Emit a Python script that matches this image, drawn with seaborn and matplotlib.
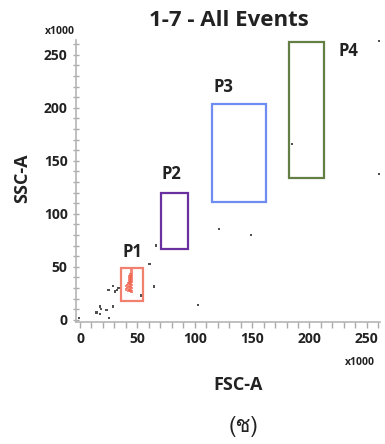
import numpy as np
import pandas as pd
import matplotlib
matplotlib.use("Agg")
import matplotlib.pyplot as plt
from matplotlib.patches import Rectangle
from matplotlib.ticker import MultipleLocator
from matplotlib import font_manager
from matplotlib.ft2font import FT2Font
import seaborn as sns

# Events outside the gates (FSC-A, SSC-A in thousands)
other_fsc = [-1, 17.4, 18.3, 14.5, 17.4, 23, 25.5, 28.5, 24.7, 28.5, 30.5, 32, 33.4,
             66, 60.4, 64.7, 103, 121.3, 149, 185, 260.5, 260.5, 53]
other_ssc = [2, 12.5, 10, 7, 5.7, 9.4, 2, 12.5, 28, 32, 26.7, 28.3, 29.9,
             70, 52.5, 31.4, 14, 85.6, 80, 166, 263, 137.7, 23]

# Events inside gate P1
p1_fsc = [40, 40, 41, 41, 42, 42, 42,
          43, 43, 43, 43, 43,
          44, 44, 44, 44, 44, 44,
          45, 45, 45, 45, 45, 45, 45, 45]
p1_ssc = [29, 32, 30, 33, 28, 31, 34,
          29, 32, 35, 38, 41,
          28, 31, 34, 37, 40, 43,
          27, 30, 33, 36, 39, 42, 45, 47]

# Gates: name, FSC range, SSC range
gate_names = ["P1", "P2", "P3", "P4"]
gate_fsc = [(35.7, 54.9), (70.6, 94.0), (114.7, 162.0), (182.0, 212.5)]
gate_ssc = [(18.0, 49.0), (67.0, 119.8), (111.0, 203.8), (134.0, 262.5)]
gate_colors = ["#f2806e", "#6b30a0", "#6f8cf2", "#647f44"]
label_pos = [(45.3, 64), (80, 137.7), (125.4, 219.8), (234.3, 253.8)]

x_ticks = [0, 50, 100, 150, 200, 250]
y_ticks = [0, 50, 100, 150, 200, 250]


def pick_font(ch, fallback="DejaVu Sans"):
    for f in font_manager.fontManager.ttflist:
        try:
            if ord(ch) in FT2Font(f.fname).get_charmap():
                return f.name
        except Exception:
            continue
    return fallback


sns.set_style("white")
plt.rcParams["font.family"] = ["Open Sans", "DejaVu Sans"]

fig = plt.figure(figsize=(3.85, 4.44), dpi=100)
ax = fig.add_axes([76 / 385, 1 - 322 / 444, 304 / 385, 282 / 444])

df_other = pd.DataFrame({"FSC-A": other_fsc, "SSC-A": other_ssc})
df_p1 = pd.DataFrame({"FSC-A": p1_fsc, "SSC-A": p1_ssc})
sns.scatterplot(data=df_other, x="FSC-A", y="SSC-A", ax=ax, marker="s", s=3,
                color="#505050", edgecolor="none", clip_on=False)
sns.scatterplot(data=df_p1, x="FSC-A", y="SSC-A", ax=ax, marker="s", s=4,
                color="#f0654f", alpha=0.75, edgecolor="none")

for name, (x0, x1), (y0, y1), c, (lx, ly) in zip(gate_names, gate_fsc, gate_ssc,
                                                   gate_colors, label_pos):
    ax.add_patch(Rectangle((x0, y0), x1 - x0, y1 - y0, fill=False,
                           edgecolor=c, linewidth=1.6))
    ax.text(lx, ly, name, ha="center", va="center", fontsize=12,
            fontweight="bold", color="#222222")

ax.set_xlim(-3.5, 261.5)
ax.set_ylim(-2, 264)
ax.set_xticks(x_ticks)
ax.set_yticks(y_ticks)
ax.xaxis.set_minor_locator(MultipleLocator(10))
ax.yaxis.set_minor_locator(MultipleLocator(10))
ax.tick_params(axis="both", which="both", colors="#aaaaaa", labelcolor="#222222",
               labelsize=10, width=1)
ax.tick_params(axis="x", which="both", direction="out", length=4, bottom=True)
ax.tick_params(axis="y", which="both", direction="inout", length=5, left=True)
for lab in ax.get_xticklabels() + ax.get_yticklabels():
    lab.set_fontweight("bold")
for side in ["top", "right"]:
    ax.spines[side].set_visible(False)
for side in ["left", "bottom"]:
    ax.spines[side].set_color("#b5b5b5")
    ax.spines[side].set_linewidth(1.2)

ax.set_xlabel("")
ax.set_ylabel("")

fig.text(229 / 385, 1 - 21 / 444, "1-7 - All Events", ha="center", va="center",
         fontsize=16, fontweight="bold", color="#222222")
fig.text(60 / 385, 1 - 32 / 444, "x1000", ha="center", va="center",
         fontsize=7.5, fontweight="bold", color="#222222")
fig.text(360 / 385, 1 - 362 / 444, "x1000", ha="center", va="center",
         fontsize=7.5, fontweight="bold", color="#222222")
fig.text(238 / 385, 1 - 385 / 444, "FSC-A", ha="center", va="center",
         fontsize=13, fontweight="bold", color="#222222")
fig.text(22 / 385, 1 - 178 / 444, "SSC-A", ha="center", va="center",
         rotation=90, fontsize=13, fontweight="bold", color="#222222")

thai_font = pick_font("\u0e0a")
fig.text(243 / 385, 1 - 426 / 444, "(\u0e0a)", ha="center", va="center",
         fontsize=16, color="#222222", family=[thai_font, "DejaVu Sans"])

fig.savefig("out.png", dpi=100)
